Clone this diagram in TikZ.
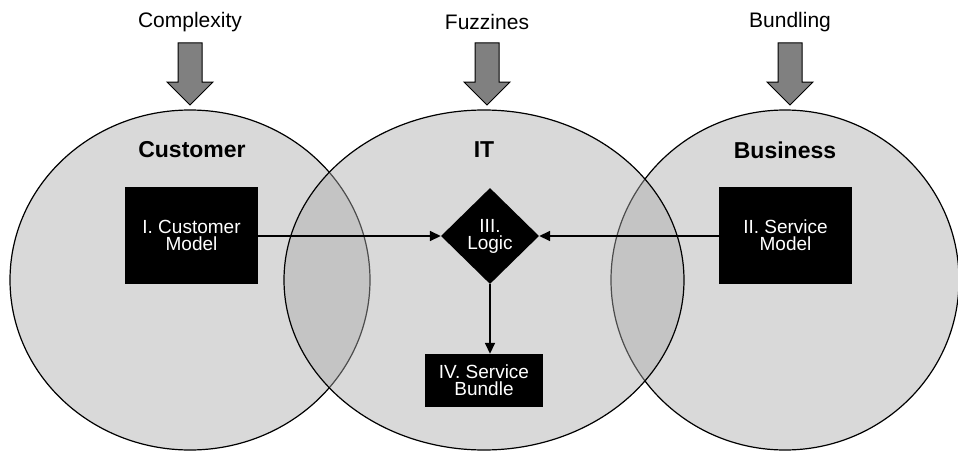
\documentclass[tikz,border=0pt]{standalone}
\usepackage{fontspec}
\setmainfont{Liberation Sans}
\usetikzlibrary{arrows.meta,shapes.geometric}
\definecolor{setfill}{gray}{0.667}
\definecolor{pushgray}{gray}{0.5}
\begin{document}
\begin{tikzpicture}[x=1pt,y=-1pt,
  zone/.style={draw=black, line width=1.2pt, fill=setfill, fill opacity=0.447},
  force/.style={draw=black, line width=1pt, fill=pushgray, line join=miter},
  forcelabel/.style={font=\fontsize{21}{25}\selectfont, inner sep=0pt},
  zonetitle/.style={font=\fontsize{23}{27}\selectfont\bfseries, inner sep=0pt},
  blockbox/.style={fill=black, text=white, align=center, inner sep=0pt,
    font=\fontsize{19}{17}\selectfont},
  logicbox/.style={diamond, aspect=1, fill=black, text=white, align=center,
    inner sep=0pt, minimum width=98pt, minimum height=96pt,
    font=\fontsize{19}{17}\selectfont},
  link/.style={draw=black, line width=1.6pt, -{Triangle[length=11pt,width=10pt]}}
]
\useasboundingbox (0,0) rectangle (958,452);

% the three zones, middle one drawn last
\draw[zone] (190,280) ellipse [x radius=180, y radius=170];
\draw[zone] (785,280) ellipse [x radius=174, y radius=170];
\draw[zone] (484,280) ellipse [x radius=200, y radius=170];

% external forces pushing down on each zone
\foreach \cx in {190,487,790}{
  \draw[force] (\cx-12,43) -- (\cx+12,43) -- (\cx+12,82) -- (\cx+23,82)
    -- (\cx,105) -- (\cx-23,82) -- (\cx-12,82) -- cycle;
}
\node[forcelabel] (complexity) at (190,22) {Complexity};
\node[forcelabel] (fuzzines) at (487,22) {Fuzzines};
\node[forcelabel] (bundling) at (790,22) {Bundling};

% zone titles
\node[zonetitle] (customer) at (192,150) {Customer};
\node[zonetitle] (it) at (484,150) {IT};
\node[zonetitle] (business) at (785,150) {Business};

% models and logic
\node[blockbox, minimum width=133pt, minimum height=97pt] (cmodel) at (191.5,235) {I. Customer\\Model};
\node[blockbox, minimum width=133pt, minimum height=97pt] (smodel) at (785.5,235) {II. Service\\Model};
\node[logicbox] (logic) at (490,236) {III.\\Logic};
\node[blockbox, minimum width=118pt, minimum height=53pt] (bundle) at (484,380.5) {IV. Service\\Bundle};

\draw[link] (cmodel.east |- logic.west) -- (logic.west);
\draw[link] (smodel.west |- logic.east) -- (logic.east);
\draw[link] (logic.south) -- (logic.south |- bundle.north);
\end{tikzpicture}
\end{document}
